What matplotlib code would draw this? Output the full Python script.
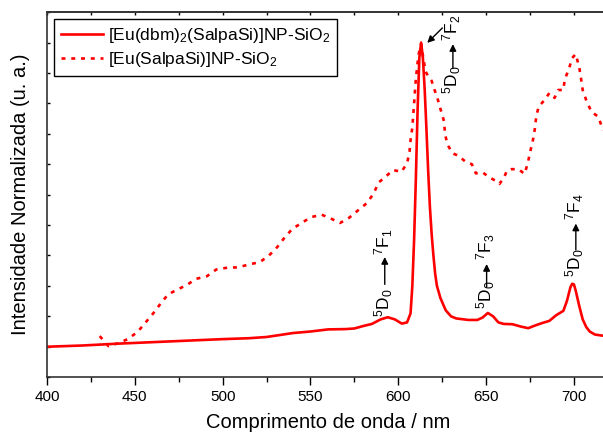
import numpy as np
import matplotlib
matplotlib.use("Agg")
import matplotlib.pyplot as plt
from matplotlib.ticker import MultipleLocator

plt.rcParams['font.family'] = ['Liberation Sans', 'DejaVu Sans']
plt.rcParams['mathtext.default'] = 'regular'

# [Eu(dbm)2(SalpaSi)]NP-SiO2 (solid line)
wl_dbm = [400, 420, 440, 460, 480, 500, 515, 525, 532, 540, 550, 560, 570, 575,
          580, 585, 590, 594, 598, 602, 605, 607, 608, 609, 610, 611, 612, 613,
          614, 615, 616, 617, 618, 619, 620, 621, 622, 624, 627, 630, 633, 640,
          645, 648, 651, 654, 657, 660, 665, 670, 674, 678, 682, 686, 690, 694,
          696, 698, 699, 700, 701, 703, 705, 707, 709, 712, 718]
int_dbm = [0.0, 0.004, 0.010, 0.015, 0.020, 0.025, 0.028, 0.032, 0.038, 0.045,
           0.050, 0.057, 0.058, 0.060, 0.068, 0.075, 0.090, 0.097, 0.090, 0.076,
           0.080, 0.11, 0.20, 0.35, 0.55, 0.78, 0.95, 1.0, 0.95, 0.85, 0.72,
           0.58, 0.46, 0.37, 0.30, 0.24, 0.20, 0.16, 0.12, 0.10, 0.093, 0.088,
           0.088, 0.096, 0.111, 0.100, 0.080, 0.075, 0.074, 0.066, 0.061, 0.070,
           0.078, 0.085, 0.104, 0.118, 0.150, 0.195, 0.207, 0.205, 0.185, 0.135,
           0.090, 0.065, 0.050, 0.040, 0.035]

# [Eu(SalpaSi)]NP-SiO2 (dotted line)
wl_salpa = [430, 435, 440.7, 446, 451.6, 456, 460.5, 464.7, 468.9, 474.6, 479.6,
            484.8, 491.1, 496.4, 502.7, 508.8, 515.3, 521.1, 526.4, 531.0, 535.4,
            539.8, 545.3, 550.2, 556.4, 561.4, 566.9, 572.0, 577.0, 582.1, 586.0,
            588.8, 592.6, 597.0, 601.8, 605.0, 606.4, 607.0, 608.0, 609.0, 610.0,
            611.5, 613.0, 615.5, 617.0, 619.0, 620.3, 622.3, 624.2, 626.1, 626.6,
            628.0, 630.8, 634.3, 637.9, 641.9, 644.2, 648.1, 651.8, 655.3, 657.6,
            660.4, 661.9, 664.6, 668.6, 671.9, 673.8, 675.1, 676.7, 677.8, 678.6,
            680.0, 683.3, 686.0, 689.0, 691.0, 694.0, 694.8, 697.0, 699.0, 701.0,
            703.0, 704.0, 705.0, 707.0, 710.0, 714.0, 716.0, 718.0]
int_salpa = [0.035, 0.002, 0.012, 0.025, 0.049, 0.079, 0.11, 0.142, 0.172, 0.189,
             0.203, 0.223, 0.232, 0.254, 0.26, 0.261, 0.271, 0.278, 0.30, 0.327,
             0.36, 0.388, 0.408, 0.426, 0.434, 0.422, 0.407, 0.424, 0.448, 0.472,
             0.504, 0.54, 0.558, 0.581, 0.575, 0.603, 0.641, 0.68, 0.72, 0.80,
             0.88, 0.96, 0.995, 0.905, 0.89, 0.874, 0.85, 0.817, 0.778, 0.74,
             0.70, 0.665, 0.636, 0.628, 0.61, 0.60, 0.57, 0.573, 0.557, 0.546,
             0.535, 0.559, 0.579, 0.584, 0.583, 0.568, 0.605, 0.641, 0.68, 0.718,
             0.759, 0.79, 0.811, 0.834, 0.818, 0.844, 0.844, 0.88, 0.91, 0.949,
             0.962, 0.92, 0.884, 0.844, 0.811, 0.772, 0.756, 0.72, 0.706]

legend_labels = [r'[Eu(dbm)$_2$(SalpaSi)]NP-SiO$_2$', r'[Eu(SalpaSi)]NP-SiO$_2$']

# transitions: (wavelength, y of 5D0, arrow start, arrow end, y of 7F, label)
transitions = [
    (591.7, 0.145, 0.205, 0.295, 0.344, r'$^7$F$_1$'),
    (649.7, 0.170, 0.196, 0.272, 0.328, r'$^7$F$_3$'),
    (700.5, 0.277, 0.318, 0.405, 0.459, r'$^7$F$_4$'),
    (630.5, 0.877, 0.915, 0.995, 1.048, r'$^7$F$_2$'),
]

fig = plt.figure(figsize=(6.03, 4.34), dpi=100)
ax = fig.add_axes([0.078, 0.131, 0.932, 0.841])

red = '#ff0000'
ax.plot(wl_dbm, int_dbm, color=red, lw=1.9, label=legend_labels[0])
ax.plot(wl_salpa, int_salpa, color=red, lw=1.9, linestyle=(0, (1.5, 2.2)),
        label=legend_labels[1])

for x, yd, y0, y1, yf, lab in transitions:
    ax.text(x, yd, r'$^5$D$_0$', rotation=90, ha='center', va='center', fontsize=12.5)
    ax.annotate('', xy=(x + 0.6, y1), xytext=(x + 0.6, y0),
                arrowprops=dict(arrowstyle='-|>', color='black', lw=1,
                                mutation_scale=10, shrinkA=0, shrinkB=0))
    ax.text(x, yf, lab, rotation=90, ha='center', va='center', fontsize=12.5)

# arrow pointing at the 5D0 -> 7F2 peak
ax.annotate('', xy=(616.5, 0.999), xytext=(625.1, 1.048),
            arrowprops=dict(arrowstyle='-|>', color='black', lw=1,
                            mutation_scale=10, shrinkA=0, shrinkB=0))

ax.set_xlim(400, 720)
ax.set_ylim(-0.1, 1.1)
ax.xaxis.set_major_locator(MultipleLocator(50))
ax.xaxis.set_minor_locator(MultipleLocator(25))
ax.yaxis.set_major_locator(MultipleLocator(0.1))
ax.tick_params(axis='x', which='major', direction='out', length=6, width=1,
               labelsize=11, top=False)
ax.tick_params(axis='x', which='minor', direction='out', length=3.5, width=1, top=False)
ax.tick_params(axis='y', which='major', direction='in', length=2.5, width=1,
               labelleft=False, right=False)
sec = ax.secondary_xaxis('top')
sec.set_xticks(np.arange(400, 725, 25))
sec.tick_params(direction='in', length=2.5, width=1, labeltop=False)
sec.spines['top'].set_linewidth(1.2)
sec.spines['top'].set_color('#333333')
for s in ax.spines.values():
    s.set_linewidth(1.2)
    s.set_color('#333333')
ax.spines['right'].set_visible(False)

ax.set_xlabel('Comprimento de onda / nm', fontsize=14.5, labelpad=6)
ax.set_ylabel('Intensidade Normalizada (u. a.)', fontsize=14.5, labelpad=12)

leg = ax.legend(loc='upper left', fontsize=12.5, frameon=True, fancybox=False,
                edgecolor='black', framealpha=1, handlelength=2.4,
                handletextpad=0.3, labelspacing=0.3, borderaxespad=0.4,
                borderpad=0.4)
leg.get_frame().set_linewidth(1)

fig.savefig('out.png', dpi=100)
